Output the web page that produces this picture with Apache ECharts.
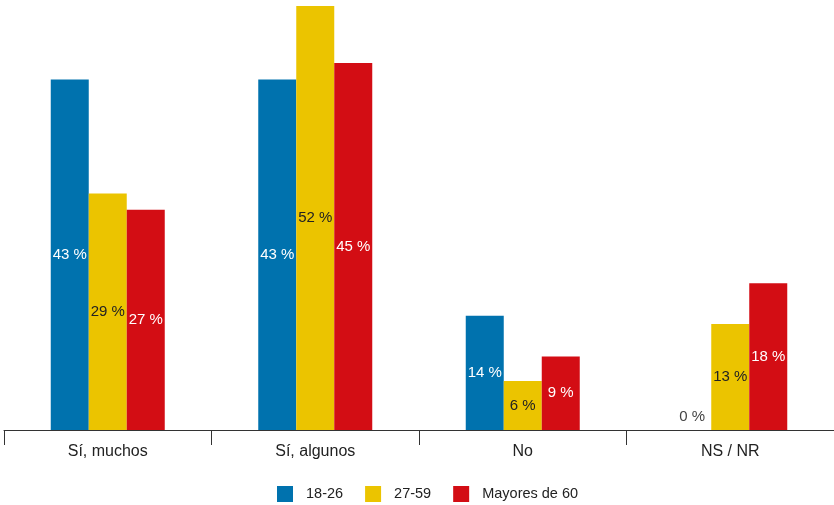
<!DOCTYPE html>
<html>
<head>
<meta charset="utf-8">
<script src="https://cdn.jsdelivr.net/npm/echarts@6/dist/echarts.min.js"></script>
<style>
  html, body { margin: 0; padding: 0; background: #fff; }
  #chart { width: 834px; height: 505px; }
</style>
</head>
<body>
<div id="chart"></div>
<script>
// Answers grouped by age band (percent)
const categories = ['Sí, muchos', 'Sí, algunos', 'No', 'NS / NR'];
const seriesNames = ['18-26', '27-59', 'Mayores de 60'];
const youngValues = [43, 43, 14, 0];
const middleValues = [29, 52, 6, 13];
const olderValues = [27, 45, 9, 18];

const colors = ['#0072ae', '#ebc400', '#d30d14'];
const labelColors = ['#ffffff', '#222222', '#ffffff'];
const font = '"Liberation Sans", Arial, sans-serif';

function makeSeries(name, values, idx) {
  return {
    name: name,
    type: 'bar',
    barWidth: 38,
    barGap: '0%',
    itemStyle: { color: colors[idx] },
    label: {
      show: true,
      position: 'inside',
      color: labelColors[idx],
      fontFamily: font,
      fontSize: 15,
      formatter: p => p.value + ' %'
    },
    data: values.map(v => v === 0
      ? { value: v, label: { position: 'top', distance: 6, color: '#444444' } }
      : v)
  };
}

const chart = echarts.init(document.getElementById('chart'));
chart.setOption({
  animation: false,
  textStyle: { fontFamily: font },
  grid: { left: 4, right: 0, top: 6, bottom: 75, containLabel: false },
  legend: {
    left: 277,
    top: 486,
    padding: 0,
    itemWidth: 16,
    itemHeight: 16,
    itemGap: 22,
    icon: 'rect',
    textStyle: { fontFamily: font, fontSize: 14.5, color: '#222', padding: [0, 0, 0, 8] },
    data: seriesNames
  },
  xAxis: {
    type: 'category',
    data: categories,
    axisLine: { lineStyle: { color: '#333', width: 1 } },
    axisTick: { show: true, length: 15, lineStyle: { color: '#333' } },
    axisLabel: { color: '#222', fontSize: 16, margin: 14, fontFamily: font }
  },
  yAxis: {
    type: 'value',
    min: 0,
    max: 52,
    show: false,
    splitLine: { show: false }
  },
  series: [
    makeSeries(seriesNames[0], youngValues, 0),
    makeSeries(seriesNames[1], middleValues, 1),
    makeSeries(seriesNames[2], olderValues, 2)
  ]
});
</script>
</body>
</html>
